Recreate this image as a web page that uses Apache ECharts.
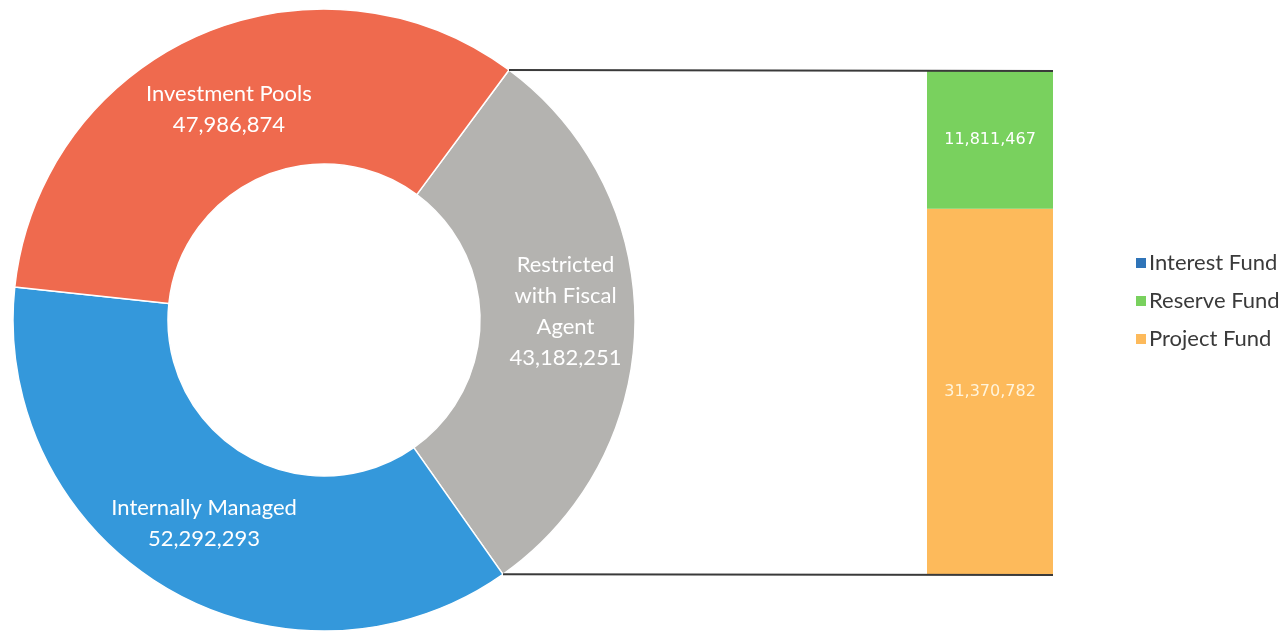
<!DOCTYPE html>
<html>
<head>
<meta charset="utf-8">
<script src="https://cdn.jsdelivr.net/npm/echarts@6/dist/echarts.min.js"></script>
<style>
  html, body { margin: 0; padding: 0; background: #fff; }
  #chart { width: 1288px; height: 631px; }
</style>
</head>
<body>
<div id="chart"></div>
<script>
// Portfolio split (donut) and breakdown of the fiscal-agent slice (stacked bar)
const pieCategories = ['Restricted with Fiscal Agent', 'Internally Managed', 'Investment Pools'];
const pieLabelText = ['Restricted\nwith Fiscal\nAgent', 'Internally Managed', 'Investment Pools'];
const pieValues = [43182251, 52292293, 47986874];
const pieColors = ['#B4B3B0', '#3498DB', '#EF6A4E'];
// per-slice nudges of the label block
const pieLabelOffsets = [[5, -11], [0, 0], [0, 6]];

const barSeriesNames = ['Interest Fund', 'Reserve Fund', 'Project Fund'];
const barValues = [2, 11811467, 31370782];
const barColors = ['#2F74B8', '#79D15E', '#FDBA5B'];
const barLabelColors = ['#ffffff', '#ffffff', '#FFF4DC'];

const fmt = v => v.toLocaleString('en-US');

const pieCenter = [324, 320];
const pieRadius = [156, 311];
const pieStart = 53.5;

const chart = echarts.init(document.getElementById('chart'));

// bar series stacked bottom-up: Project, Reserve, Interest
const stackOrder = [2, 1, 0];
const barSeries = stackOrder.map(i => ({
  name: barSeriesNames[i],
  type: 'bar',
  stack: 'fund',
  barWidth: '100%',
  data: [barValues[i]],
  itemStyle: { color: barColors[i] },
  label: {
    show: i !== 0,
    position: 'inside',
    color: barLabelColors[i],
    fontFamily: 'DejaVu Sans',
    fontSize: 16,
    formatter: p => fmt(p.value)
  },
  emphasis: { disabled: true }
}));

chart.setOption({
  animation: false,
  backgroundColor: '#ffffff',
  legend: {
    data: barSeriesNames,
    orient: 'vertical',
    left: 1131,
    top: 247,
    itemWidth: 10,
    itemHeight: 10,
    itemGap: 16,
    icon: 'rect',
    textStyle: { fontFamily: 'Lato', fontSize: 22, color: '#3a3a3a', padding: [0, 0, 0, -2] }
  },
  grid: { left: 927, right: 235, top: 71, bottom: 56 },
  xAxis: { type: 'category', data: [''], show: false },
  yAxis: { type: 'value', min: 0, max: barValues.reduce((a, b) => a + b, 0), show: false },
  series: [
    {
      name: 'Portfolio',
      type: 'pie',
      center: pieCenter,
      radius: pieRadius,
      startAngle: pieStart,
      clockwise: true,
      avoidLabelOverlap: false,
      itemStyle: { borderColor: '#ffffff', borderWidth: 1.5 },
      label: {
        show: true,
        position: 'inside',
        color: '#ffffff',
        fontFamily: 'Lato',
        fontSize: 22,
        lineHeight: 31,
        formatter: p => pieLabelText[p.dataIndex] + '\n' + fmt(p.value)
      },
      labelLine: { show: false },
      emphasis: { disabled: true },
      data: pieCategories.map((n, i) => ({
        name: n,
        value: pieValues[i],
        itemStyle: { color: pieColors[i] },
        label: { offset: pieLabelOffsets[i] }
      }))
    },
    ...barSeries
  ]
});

// Connector lines from the edges of the first slice to the top and bottom of the bar
const total = pieValues.reduce((a, b) => a + b, 0);
const a1 = pieStart * Math.PI / 180;
const a2 = (pieStart - 360 * pieValues[0] / total) * Math.PI / 180;
const R = pieRadius[1];
const p1 = [pieCenter[0] + R * Math.cos(a1), pieCenter[1] - R * Math.sin(a1)];
const p2 = [pieCenter[0] + R * Math.cos(a2), pieCenter[1] - R * Math.sin(a2)];
const barTotal = barValues.reduce((a, b) => a + b, 0);
const yTop = chart.convertToPixel({ yAxisIndex: 0 }, barTotal);
const yBot = chart.convertToPixel({ yAxisIndex: 0 }, 0);
const rect = chart.getModel().getComponent('grid', 0).coordinateSystem.getRect();
const xRight = rect.x + rect.width;

chart.setOption({
  graphic: [
    { type: 'line', z: 10, shape: { x1: p1[0], y1: p1[1], x2: xRight, y2: yTop }, style: { stroke: '#3a3a3a', lineWidth: 2 } },
    { type: 'line', z: 10, shape: { x1: p2[0], y1: p2[1], x2: xRight, y2: yBot }, style: { stroke: '#3a3a3a', lineWidth: 2 } }
  ]
});
</script>
</body>
</html>
